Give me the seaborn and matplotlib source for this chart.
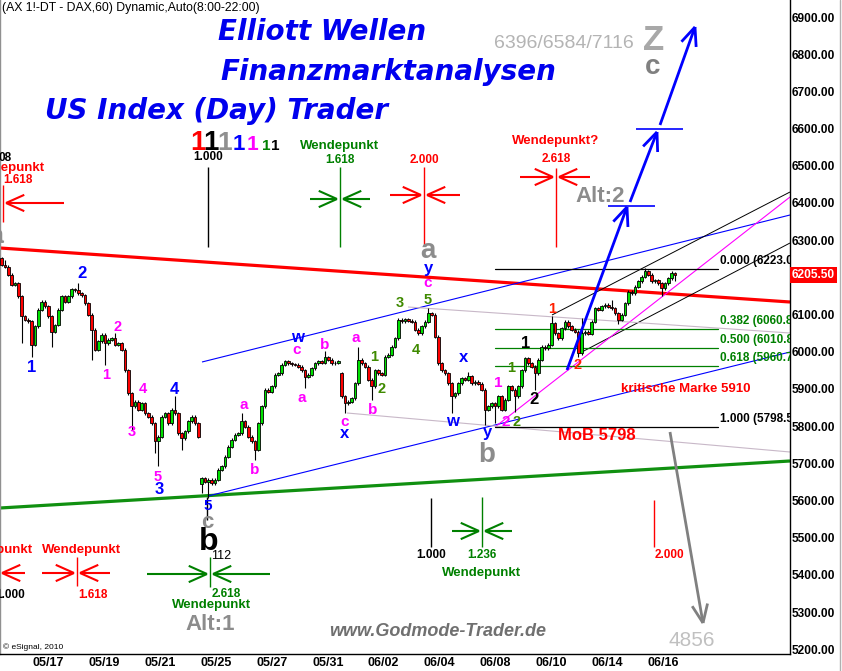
import matplotlib
matplotlib.use("Agg")
import matplotlib.pyplot as plt
import numpy as np
import pandas as pd
import seaborn as sns

# DAX future, 60 min bars, closes
closes_part1 = [
    6234, 6229, 6207, 6180, 6184, 6149, 6095, 6086, 6082, 6019,
    6068, 6113, 6135, 6122, 6095, 6054, 6072, 6113, 6149, 6135,
    6149, 6168, 6166, 6158, 6152, 6131, 6099, 6059, 6005, 6028,
    6046, 6023, 6032, 6037, 6019, 6023, 6005, 5951, 5889, 5853,
    5866, 5844, 5862, 5835, 5826, 5808, 5759, 5772, 5826, 5835,
    5808, 5844, 5835, 5781, 5768, 5786, 5813, 5826, 5808, 5772,
    5660, 5650, 5656, 5647, 5656, 5683, 5692, 5718, 5745, 5763,
    5777, 5781, 5813, 5799, 5772, 5759, 5736, 5808, 5853, 5898,
    5893, 5907, 5938, 5942, 5965, 5974, 5969, 5966, 5965, 5960,
    5951, 5933, 5938, 5956, 5969, 5974, 5971, 5985, 5978, 5969,
    5971, 5974,
]
closes_part2 = [
    5880, 5862, 5866, 5875, 5916, 5978, 5969, 5960, 5925, 5907,
    5951, 5942, 5938, 5987, 5992, 6014, 6037, 6086, 6082, 6088,
    6084, 6081, 6059, 6050, 6068, 6081, 6104, 6099, 6041, 5969,
    5951, 5942, 5916, 5880, 5889, 5916, 5929, 5925, 5934, 5916,
    5920, 5914, 5898, 5844, 5853, 5862, 5853, 5880, 5844, 5871,
    5907, 5898, 5880, 5907, 5951, 5983, 5969, 5960, 5942, 5978,
    6014, 6010, 6019, 6077, 6050, 6037, 6063, 6081, 6068, 6059,
    6054, 5996, 6050, 6054, 6049, 6081, 6117, 6113, 6122, 6126,
    6121, 6117, 6104, 6086, 6099, 6131, 6162, 6158, 6175, 6189,
    6202, 6216, 6207, 6189, 6192, 6184, 6171, 6184, 6198, 6211,
    6205.5,
]
# opens after price gaps, highs / lows of the long wicks
gap_opens = {0: 6252, 60: 5645, 102: 5942}
wick_high = {1: 6247, 23: 6186, 34: 6050, 52: 5880, 72: 5835, 97: 6001,
             107: 6014, 128: 6117, 140: 5947, 165: 6095, 174: 6090,
             183: 6140, 193: 6225, 201: 6218}
wick_low = {6: 6023, 9: 5987, 15: 6014, 27: 5978, 31: 5965, 39: 5790,
            46: 5727, 47: 5692, 54: 5736, 60: 5620, 62: 5606, 76: 5710,
            91: 5902, 103: 5835, 111: 5871, 135: 5835, 145: 5804,
            148: 5808, 154: 5839, 160: 5898, 173: 5987, 185: 6075,
            198: 6149, 202: 6189}

date_labels = ["05/17", "05/19", "05/21", "05/25", "05/27", "05/31",
               "06/02", "06/04", "06/08", "06/10", "06/14", "06/16"]
price_ticks = list(range(5200, 7000, 100))
last_price = 6205.5

fib_top = 6223.0
fib_bottom = 5798.5
fib_ratios = [0.000, 0.382, 0.500, 0.618, 1.000]
fib_colors = ["black", "#008000", "#008000", "#008000", "black"]

close = np.array(closes_part1 + closes_part2, dtype=float)
open_ = np.r_[close[0], close[:-1]]
for i, v in gap_opens.items():
    open_[i] = v
high = np.maximum(open_, close) + 4
low = np.minimum(open_, close) - 4
for i, v in wick_high.items():
    high[i] = v
for i, v in wick_low.items():
    low[i] = v
bars = pd.DataFrame({"bar": np.arange(len(close)), "open": open_, "high": high,
                     "low": low, "close": close})

sns.set_theme(style="white")
plt.rcParams["font.family"] = ["Liberation Sans", "DejaVu Sans"]

fig = plt.figure(figsize=(8.42, 6.71), dpi=100)
W, H = 790, 654
ax = fig.add_axes([0, 17 / 671, W / 842, H / 671])
ax.set_xlim(-1.7 / 3.333, (W - 1.7) / 3.333)
ax.set_ylim(5187.6, 6945.7)


def seg(x1, y1, x2, y2, color, lw=0.8, z=2):
    ax.plot([x1 / W, x2 / W], [1 - y1 / H, 1 - y2 / H], transform=ax.transAxes,
            color=color, lw=lw, zorder=z, solid_capstyle="butt")


def arrow(x1, y1, x2, y2, color, lw=1.5, head=19, spread=0.42, z=6):
    seg(x1, y1, x2, y2, color, lw, z)
    ang = np.arctan2(y1 - y2, x1 - x2)
    for s in (-spread, spread):
        seg(x2, y2, x2 + head * np.cos(ang + s), y2 + head * np.sin(ang + s), color, lw, z)


def txt(x, y, s, color="black", size=9, weight="bold", ha="center", va="center",
        style="normal", family=None, z=7):
    kw = {} if family is None else {"family": family}
    ax.text(x / W, 1 - y / H, s, transform=ax.transAxes, color=color, fontsize=size,
            fontweight=weight, ha=ha, va=va, style=style, zorder=z, clip_on=True, **kw)


def marker(xc, y1, y2, color, ay=None, left=None, right=None):
    seg(xc, y1, xc, y2, color, 1.0, 3)
    if left:
        arrow(left, ay, xc - 3, ay, color, 1.5, 20)
    if right:
        arrow(right, ay, xc + 3, ay, color, 1.5, 20)


# trend lines and channels
seg(0, 248, 790, 302, "#ff0000", 2.3, 2)
seg(0, 508, 790, 461, "#109010", 2.3, 2)
seg(208, 496, 790, 352, "#0000ff", 0.8)
seg(202, 362, 790, 215, "#0000ff", 0.8)
seg(552, 315, 790, 192, "black", 0.7)
seg(580, 353, 790, 243, "black", 0.7)
seg(495, 427, 790, 197, "#ff00ff", 0.8)
seg(408, 307, 790, 333, "#c8b8c8", 0.8)
seg(347, 413, 790, 452, "#c8b8c8", 0.8)

# fibonacci retracement
fib_rows = []
for r, c in zip(fib_ratios, fib_colors):
    lvl = fib_top - r * (fib_top - fib_bottom)
    for b in ((495 - 1.7) / 3.333, (718 - 1.7) / 3.333):
        fib_rows.append({"bar": b, "price": lvl, "level": f"{r:.3f}"})
    y = 17 + (6900 - lvl) * 0.372
    txt(720, y - 8, f"{r:.3f} ({lvl:.1f})", c, 8.5, ha="left")
fib_df = pd.DataFrame(fib_rows)
sns.lineplot(data=fib_df, x="bar", y="price", hue="level",
             palette=dict(zip([f"{r:.3f}" for r in fib_ratios], fib_colors)),
             legend=False, lw=0.9, ax=ax, zorder=2)

# candles
up = bars["close"] >= bars["open"]
ax.vlines(bars["bar"], bars["low"], bars["high"], color="black", lw=0.8, zorder=4)
for mask, col in ((up, "#00e000"), (~up, "#ff0000")):
    d = bars[mask]
    body = np.maximum((d["close"] - d["open"]).abs(), 2.0)
    ax.bar(d["bar"], body, bottom=np.minimum(d["open"], d["close"]), width=0.8,
           color=col, edgecolor="black", linewidth=0.6, zorder=5)

# wendepunkt markers
marker(3, 185, 222, "#ff0000", 203, right=64)
marker(208, 167, 247, "black")
marker(340, 167, 247, "#008000", 199, left=310, right=370)
marker(424, 167, 245, "#ff0000", 195, left=390, right=460)
marker(556, 168, 247, "#ff0000", 177, left=520, right=590)
marker(431, 498, 547, "black")
marker(482, 497, 547, "#008000", 531, left=452, right=512)
marker(654, 500, 547, "#ff0000")
marker(77, 557, 586, "#ff0000", 573, left=42, right=110)
arrow(25, 573, 2, 573, "#ff0000", 1.5, 20)
marker(210, 557, 587, "#008000", 574, left=147, right=270)
seg(207, 497, 207, 520, "black", 1.0, 3)

txt(45, 168, "Wendepunkt", "#ff0000", 9.5, ha="right")
txt(3, 180, "1.618", "#ff0000", 8.5, ha="left")
txt(12, 158, "08", "black", 8.5, ha="right")
txt(208, 157, "1.000", "black", 8.5)
txt(340, 146, "Wendepunkt", "#008000", 9.5)
txt(340, 160, "1.618", "#008000", 8.5)
txt(424, 160, "2.000", "#ff0000", 8.5)
txt(556, 141, "Wendepunkt?", "#ff0000", 9.5)
txt(556, 159, "2.618", "#ff0000", 8.5)
txt(431, 555, "1.000", "black", 8.5)
txt(482, 555, "1.236", "#008000", 8.5)
txt(482, 573, "Wendepunkt", "#008000", 9.5)
txt(655, 555, "2.000", "#ff0000", 8.5, ha="left")
txt(33, 550, "Wendepunkt", "#ff0000", 9.5, ha="right")
txt(25, 595, "1.000", "black", 8.5, ha="right")
txt(82, 550, "Wendepunkt", "#ff0000", 9.5)
txt(78, 595, "1.618", "#ff0000", 8.5, ha="left")
txt(212, 594, "2.618", "#008000", 8.5, ha="left")
txt(212, 605, "Wendepunkt", "#008000", 9.5)

# degree counter
for x, col, sz in ((190, "#ff0000", 20), (203, "black", 20), (217, "#909090", 19),
                   (233, "#0000ff", 16), (247, "#ff00ff", 15), (262, "#008000", 11),
                   (271, "black", 11)):
    txt(x, 150, "1", col, sz, ha="left", va="baseline")

# wave count
B, M, G, K, R = "#0000ff", "#ff00ff", "#3f8a00", "black", "#ff2000"
waves = [
    (32, 367, "1", B, 12), (82, 274, "2", B, 12), (174, 389, "4", B, 12),
    (159, 489, "3", B, 12), (208, 506, "5", B, 11), (297, 337, "w", B, 12),
    (345, 433, "x", B, 12), (428, 268, "y", B, 12), (464, 358, "x", B, 12),
    (452, 422, "w", B, 12), (487, 433, "y", B, 12),
    (106, 375, "1", M, 10.5), (118, 327, "2", M, 10.5), (132, 432, "3", M, 10.5),
    (143, 389, "4", M, 10.5), (158, 477, "5", M, 10.5), (244, 405, "a", M, 11),
    (255, 470, "b", M, 11), (297, 350, "c", M, 11), (325, 345, "b", M, 11),
    (302, 398, "a", M, 11), (345, 422, "c", M, 11), (356, 338, "a", M, 11),
    (373, 410, "b", M, 11), (428, 283, "c", M, 11), (498, 383, "1", M, 11),
    (506, 422, "2", M, 11),
    (374, 357, "1", G, 10.5), (382, 389, "2", G, 10.5), (400, 303, "3", G, 10.5),
    (416, 350, "4", G, 10.5), (428, 300, "5", G, 10.5), (511, 368, "1", G, 10.5),
    (517, 422, "2", G, 10.5),
    (526, 344, "1", K, 12), (534, 400, "2", K, 12),
    (552, 309, "1", R, 10.5), (578, 365, "2", R, 10.5),
    (428, 251, "a", "#8c8c8c", 20), (487, 455, "b", "#8c8c8c", 20),
    (207, 522, "c", "#8c8c8c", 16), (209, 542, "b", K, 23), (-4, 236, "a", "#8c8c8c", 18),
]
for x, y, s, c, sz in waves:
    txt(x, y, s, c, sz)
txt(221, 556, "112", "black", 9, weight="normal")

# targets
arrow(567, 370, 627, 207, "#0000ff", 2.0, 20, 0.4)
seg(608, 206, 655, 206, "#0000ff", 1.2, 6)
arrow(630, 202, 657, 132, "#0000ff", 2.0, 20, 0.4)
seg(636, 129, 683, 129, "#0000ff", 1.2, 6)
arrow(660, 125, 695, 27, "#0000ff", 2.0, 20, 0.4)
arrow(670, 432, 703, 623, "#808080", 2.0, 20, 0.4)
txt(600, 196, "Alt:2", "#8c8c8c", 16)
txt(210, 624, "Alt:1", "#8c8c8c", 16)
txt(692, 641, "4856", "#c0c0c0", 15, weight="normal")
txt(564, 43, "6396/6584/7116", "#b4b4b4", 14, weight="normal")
txt(654, 40, "Z", "#a8a8a8", 25)
txt(653, 67, "c", "#808080", 20)
txt(686, 389, "kritische Marke 5910", "#ff0000", 9.5)
txt(558, 436, "MoB 5798", "#ff0000", 12, ha="left")

# header and titles
txt(2, 8, "(AX 1!-DT - DAX,60) Dynamic,Auto(8:00-22:00)", "black", 8.8,
    weight="normal", ha="left")
for x, y, s in ((218, 40, "Elliott Wellen"), (220, 80, "Finanzmarktanalysen"),
                (45, 119, "US Index (Day) Trader")):
    txt(x, y, s, "#0000ee", 20, ha="left", va="baseline", style="italic",
        family="DejaVu Sans")
txt(438, 632, "www.Godmode-Trader.de", "#707070", 13, style="italic")
txt(3, 647, "© eSignal, 2010", "black", 6, weight="normal", ha="left")

# axes
ax.yaxis.tick_right()
ax.set_yticks(price_ticks)
ax.set_yticklabels(["" if p == 6200 else f"{p:.2f}" for p in price_ticks])
ax.set_xticks([(48.3 - 1.7) / 3.333 + k * 16.77 for k in range(len(date_labels))])
ax.set_xticklabels(date_labels)
ax.tick_params(axis="x", length=0, labelsize=9, pad=2, colors="black")
ax.tick_params(axis="y", length=0, labelsize=8.6, pad=1.5, colors="black")
for lab in ax.get_xticklabels() + ax.get_yticklabels():
    lab.set_fontweight("bold")
ax.set_xlabel("")
ax.set_ylabel("")
ax.grid(False)
ax.spines["top"].set_visible(False)
ax.spines["right"].set_color("black")
ax.spines["bottom"].set_color("black")
ax.spines["left"].set_color("#909090")
for s in ("right", "bottom", "left"):
    ax.spines[s].set_linewidth(1.0)

ax.text(1 + 2 / W, 1 - 275 / H, f"{last_price:.2f}", transform=ax.transAxes,
        color="white", fontsize=8.6, fontweight="bold", ha="left", va="center",
        bbox=dict(facecolor="#ff0000", edgecolor="none", pad=1.5), clip_on=False, zorder=10)
fig.add_artist(plt.Line2D([840 / 842, 840 / 842], [0, 1], color="#b0b0b0", lw=1, zorder=0))

fig.savefig("out.png", dpi=100)
